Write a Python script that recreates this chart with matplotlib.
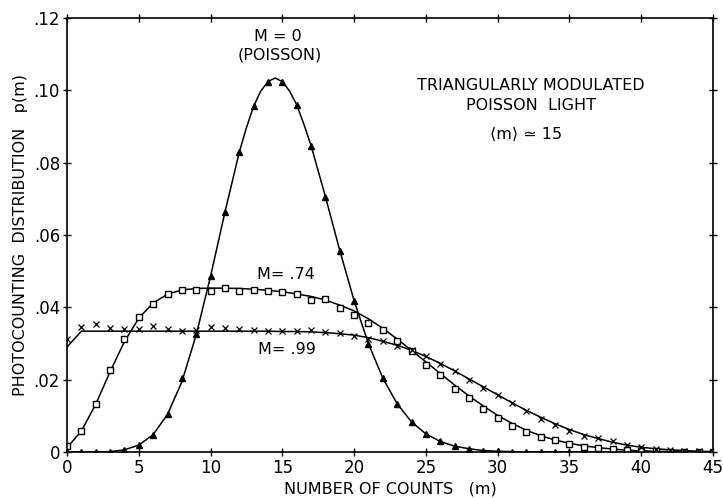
import matplotlib
matplotlib.use("Agg")
import matplotlib.pyplot as plt

# ---- data ----
m = list(range(46))

# M = 0 (Poisson) measured points (triangles)
p_m0 = [0.0, 0.0, 0.0, 0.0001, 0.0006, 0.0019, 0.0048, 0.0104, 0.0205, 0.0325,
        0.0486, 0.0663, 0.0829, 0.0956, 0.1024, 0.1024, 0.0960, 0.0847, 0.0706, 0.0557,
        0.0418, 0.0299, 0.0204, 0.0133, 0.0083, 0.0050, 0.0029, 0.0016, 0.0009, 0.0004,
        0.0002, 0.0001, 0.0, 0.0, 0.0, 0.0, 0.0, 0.0, 0.0, 0.0,
        0.0, 0.0, 0.0, 0.0, 0.0, 0.0]

# M = 0 theory curve (finer near the peak)
curve_m0_x = [0, 1, 2, 3, 4, 5, 6, 7, 8, 9, 10, 11, 12, 12.5, 13, 13.5, 14, 14.5, 15,
              15.5, 16, 16.5, 17, 18, 19, 20, 21, 22, 23, 24, 25, 26, 27, 28, 29, 30,
              32, 35, 40, 45]
curve_m0_y = [0.0, 0.0, 0.0, 0.0001, 0.0006, 0.0019, 0.0048, 0.0104, 0.0194, 0.0324,
              0.0486, 0.0663, 0.0829, 0.0897, 0.0956, 0.0998, 0.1024, 0.1034, 0.1024,
              0.0998, 0.0960, 0.0906, 0.0847, 0.0706, 0.0557, 0.0418, 0.0299, 0.0204,
              0.0133, 0.0083, 0.0050, 0.0029, 0.0016, 0.0009, 0.0004, 0.0002,
              0.0, 0.0, 0.0, 0.0]

# M = .74 measured points (squares) and curve
p_m74 = [0.0017, 0.0058, 0.0133, 0.0226, 0.0311, 0.0373, 0.0410, 0.0436, 0.0448, 0.0447,
         0.0445, 0.0453, 0.0445, 0.0448, 0.0445, 0.0443, 0.0436, 0.0419, 0.0424, 0.0397,
         0.0378, 0.0357, 0.0336, 0.0308, 0.0278, 0.0240, 0.0214, 0.0175, 0.0150, 0.0119,
         0.0095, 0.0073, 0.0056, 0.0042, 0.0033, 0.0022, 0.0015, 0.0010, 0.0008, 0.0005,
         0.0003, 0.0002, 0.0001, 0.0001, 0.0, 0.0]
curve_m74 = [0.0012, 0.0058, 0.0132, 0.0222, 0.0305, 0.0370, 0.0412, 0.0436, 0.0448, 0.0452,
             0.0453, 0.0453, 0.0452, 0.0450, 0.0447, 0.0443, 0.0437, 0.0430, 0.0420, 0.0406,
             0.0390, 0.0368, 0.0342, 0.0312, 0.0281, 0.0249, 0.0217, 0.0185, 0.0155, 0.0127,
             0.0101, 0.0079, 0.0060, 0.0045, 0.0033, 0.0024, 0.0017, 0.0012, 0.0008, 0.0005,
             0.0003, 0.0002, 0.0001, 0.0001, 0.0, 0.0]

# M = .99 measured points (crosses) and curve
p_m99 = [0.0311, 0.0346, 0.0353, 0.0344, 0.0339, 0.0339, 0.0348, 0.0339, 0.0334, 0.0336,
         0.0346, 0.0344, 0.0339, 0.0337, 0.0334, 0.0334, 0.0334, 0.0336, 0.0333, 0.0330,
         0.0320, 0.0312, 0.0306, 0.0293, 0.0281, 0.0265, 0.0244, 0.0225, 0.0200, 0.0177,
         0.0158, 0.0135, 0.0112, 0.0091, 0.0075, 0.0059, 0.0044, 0.0038, 0.0029, 0.0019,
         0.0015, 0.0009, 0.0006, 0.0003, 0.0002, 0.0001]
curve_m99 = [0.0290, 0.0334, 0.0334, 0.0334, 0.0334, 0.0334, 0.0334, 0.0334, 0.0334, 0.0334,
             0.0334, 0.0334, 0.0334, 0.0334, 0.0334, 0.0333, 0.0333, 0.0332, 0.0330, 0.0327,
             0.0323, 0.0316, 0.0306, 0.0295, 0.0281, 0.0264, 0.0245, 0.0224, 0.0202, 0.0180,
             0.0158, 0.0136, 0.0115, 0.0096, 0.0078, 0.0062, 0.0048, 0.0037, 0.0027, 0.0019,
             0.0013, 0.0009, 0.0006, 0.0004, 0.0002, 0.0001]

xticks = [0, 5, 10, 15, 20, 25, 30, 35, 40, 45]
yticks = [0, 0.02, 0.04, 0.06, 0.08, 0.10, 0.12]
yticklabels = ["0", ".02", ".04", ".06", ".08", ".10", ".12"]

# ---- figure ----
plt.rcParams["font.family"] = ["DejaVu Sans"]
fig = plt.figure(figsize=(7.23, 4.98), dpi=100)
ax = fig.add_axes([0.0927, 0.0924, 0.8935, 0.8716])

lw = 1.1
ax.plot(curve_m0_x, curve_m0_y, color="black", lw=lw)
ax.plot(m, curve_m74, color="black", lw=lw)
ax.plot(m, curve_m99, color="black", lw=lw)

ax.plot(m, p_m0, linestyle="none", marker="^", markersize=3.8, color="black")
ax.plot(m, p_m74, linestyle="none", marker="s", markersize=4.5, markerfacecolor="white",
        markeredgecolor="black", markeredgewidth=1.0)
ax.plot(m, p_m99, linestyle="none", marker="x", markersize=4.2, color="black",
        markeredgewidth=0.9)

ax.set_xlim(0, 45)
ax.set_ylim(0, 0.12)
ax.set_xticks(xticks)
ax.set_xticklabels([str(v) for v in xticks])
ax.set_yticks(yticks)
ax.set_yticklabels(yticklabels)

for s in ax.spines.values():
    s.set_linewidth(1.2)
ax.tick_params(direction="inout", length=6, width=1.0, labelsize=12,
               top=True, right=True, pad=2)

ax.set_xlabel("NUMBER OF COUNTS   (m)", fontsize=11.5, labelpad=3)
ax.set_ylabel("PHOTOCOUNTING  DISTRIBUTION   p(m)", fontsize=11.5, labelpad=4)

fs = 11.5
ax.text(14.7, 0.1150, "M = 0", ha="center", va="center", fontsize=fs)
ax.text(14.8, 0.1097, "(POISSON)", ha="center", va="center", fontsize=fs)
ax.text(32.3, 0.1014, "TRIANGULARLY MODULATED", ha="center", va="center", fontsize=fs)
ax.text(32.3, 0.0958, "POISSON  LIGHT", ha="center", va="center", fontsize=fs)
ax.text(32.0, 0.0878, "⟨m⟩ ≃ 15", ha="center", va="center", fontsize=fs)
ax.text(13.2, 0.0492, "M= .74", ha="left", va="center", fontsize=fs)
ax.text(13.3, 0.0283, "M= .99", ha="left", va="center", fontsize=fs)

fig.savefig("out.png", dpi=100)
